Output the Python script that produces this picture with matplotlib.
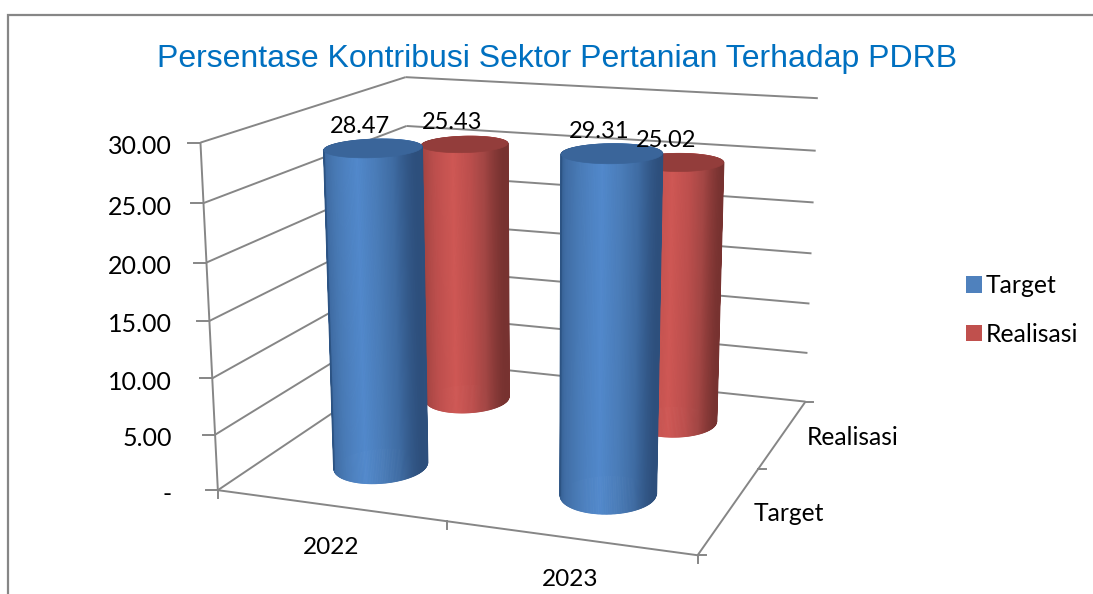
import numpy as np
import matplotlib
matplotlib.use("Agg")
import matplotlib.pyplot as plt
from matplotlib.collections import PolyCollection
from matplotlib.colors import to_rgb
from matplotlib.patches import Patch, Polygon

# =================================================================
# data
# =================================================================
years = ["2022", "2023"]
series_names = ["Target", "Realisasi"]
target = [28.47, 29.31]
realisasi = [25.43, 25.02]
value_ticks = [0, 5, 10, 15, 20, 25, 30]
value_tick_labels = ["-", "5.00", "10.00", "15.00", "20.00", "25.00", "30.00"]
value_max = 30.0

# =================================================================
# style
# =================================================================
LINE = "#868686"
RAMP_STOPS = [0, 0.15, 0.35, 0.57, 0.75, 0.88, 1]
BLUE_RAMP = ["#2c5383", "#3f6ca3", "#4a7cb8", "#5289cc", "#4a7cb8", "#3f6ca3", "#2d4f7c"]
RED_RAMP = ["#7d3331", "#a64543", "#bd4f4d", "#cf5855", "#bd4f4d", "#a34644", "#773230"]
BLUE_CAP = "#3a659a"
RED_CAP = "#933d3b"
RADIUS_X = 0.19
RADIUS_Y = 0.225

plt.rcParams["font.family"] = ["Lato", "DejaVu Sans"]

# =================================================================
# 3D box -> picture scale, calibrated on the box corners
# (category, series depth, value) -> (pixel x, pixel y)
# =================================================================
box = [(0, 0, 0), (2, 0, 0), (2, 2, 0), (0, 2, 0), (0, 0, 30), (0, 2, 30), (2, 2, 30)]
pix = [(217, 490), (698, 555), (805, 402), (412, 360), (201, 143), (405, 77), (818, 98)]

rows, rhs = [], []
for (bx, by, bz), (px, py) in zip(box, pix):
    bz = bz / value_max
    rows.append([bx, by, bz, 1, 0, 0, 0, 0, -px * bx, -px * by, -px * bz])
    rows.append([0, 0, 0, 0, bx, by, bz, 1, -py * bx, -py * by, -py * bz])
    rhs += [px, py]
cam = np.linalg.lstsq(np.array(rows, float), np.array(rhs, float), rcond=None)[0]
cam = np.append(cam, 1.0).reshape(3, 4)


def project(x, y, z):
    x, y, z = np.broadcast_arrays(x, y, np.asarray(z, float) / value_max)
    pts = np.stack([x, y, z, np.ones_like(x, dtype=float)], axis=-1)
    out = pts @ cam.T
    return out[..., 0] / out[..., 2], out[..., 1] / out[..., 2]


def seg(a, b, **kw):
    p0, p1 = project(*a), project(*b)
    ax.plot([p0[0], p1[0]], [p0[1], p1[1]], color=LINE, lw=1.4, solid_capstyle="butt", **kw)


fig = plt.figure(figsize=(10.93, 5.94), dpi=100)
ax = fig.add_axes([0, 0, 1, 1])
ax.set_xlim(0, 1093)
ax.set_ylim(594, 0)
ax.axis("off")

# chart frame (top and left side only are visible)
ax.plot([1093, 7.5, 7.5], [15, 15, 594], color=LINE, lw=1.6, solid_joinstyle="miter")

ax.text(557, 59, "Persentase Kontribusi Sektor Pertanian Terhadap PDRB",
        family="Liberation Sans", fontsize=23, color="#0070C0", ha="center", va="center")

# =================================================================
# walls, floor and ticks
# =================================================================
for v, lab in zip(value_ticks, value_tick_labels):
    seg((0, 0, v), (0, 2, v))
    seg((0, 2, v), (2, 2, v))
    tx, ty = project(0, 0, v)
    ax.plot([tx - 12, tx], [ty, ty], color=LINE, lw=1.4)
    ax.text(172, ty + 4, lab, fontsize=18, ha="right", va="center")

seg((0, 0, 0), (0, 0, value_max))
seg((0, 0, 0), (2, 0, 0))
seg((2, 0, 0), (2, 2, 0))

for i in range(len(years) + 1):
    tx, ty = project(i, 0, 0)
    ax.plot([tx, tx], [ty, ty + 8], color=LINE, lw=1.4)
for i in range(len(series_names) + 1):
    tx, ty = project(2, i, 0)
    ax.plot([tx, tx + 8], [ty, ty], color=LINE, lw=1.4)

for i, year in enumerate(years):
    tx, ty = project(i + 0.5, 0, 0)
    ax.text(tx + 1, ty + 42, year, fontsize=17.6, ha="center", va="center")
for i, name in enumerate(series_names):
    tx, ty = project(2, i + 0.5, 0)
    ax.text(tx + 24, ty + 4, name, fontsize=17.7, ha="left", va="center")


# =================================================================
# cylinders
# =================================================================
def cylinder(ci, si, value, ramp, cap):
    th = np.linspace(0, 2 * np.pi, 241)
    cx = ci + 0.5 + RADIUS_X * np.cos(th)
    cy = si + 0.5 + RADIUS_Y * np.sin(th)
    bx, by = project(cx, cy, 0)
    tx, ty = project(cx, cy, value)
    rgb = np.array([to_rgb(c) for c in ramp])
    order = np.argsort(-np.sin(th[:-1] + (th[1] - th[0]) / 2))
    polys, colors = [], []
    for k in order:
        polys.append([(bx[k], by[k]), (bx[k + 1], by[k + 1]), (tx[k + 1], ty[k + 1]), (tx[k], ty[k])])
        u = (1 + np.cos(th[k])) / 2
        colors.append([np.interp(u, RAMP_STOPS, rgb[:, c]) for c in range(3)])
    body = PolyCollection(polys, facecolors=colors, edgecolors=colors, linewidths=0.6, zorder=3)
    body.set_snap(False)
    ax.add_collection(body)
    # strips pile up into a stepped edge, so run a clean line down both sides
    for top_i, bot_i, edge in [(tx.argmin(), bx.argmin(), ramp[0]), (tx.argmax(), bx.argmax(), ramp[-1])]:
        ax.plot([tx[top_i], bx[bot_i]], [ty[top_i], by[bot_i]], color=edge, lw=1.3, zorder=3,
                solid_capstyle="round", snap=False)
    ax.add_patch(Polygon(np.column_stack([tx, ty]), closed=True, facecolor=cap, edgecolor=cap,
                         lw=0.5, zorder=3, snap=False))


for ci in range(len(years)):
    cylinder(ci, 1, realisasi[ci], RED_RAMP, RED_CAP)
    cylinder(ci, 0, target[ci], BLUE_RAMP, BLUE_CAP)

for si, values in enumerate([target, realisasi]):
    for ci, val in enumerate(values):
        tx, ty = project(ci + 0.5, si + 0.5, val)
        ax.text(tx - 13, ty - 22, f"{val:.2f}", fontsize=17, ha="center", va="center", zorder=5)

# =================================================================
# legend
# =================================================================
handles = [Patch(facecolor="#4F81BD", edgecolor="none"), Patch(facecolor="#C0504D", edgecolor="none")]
ax.legend(handles, series_names, loc="upper left", bbox_to_anchor=(966, 274),
          bbox_transform=ax.transData, frameon=False, fontsize=17.8,
          handlelength=0.66, handleheight=0.66, handletextpad=0.14, labelspacing=1.04,
          borderpad=0, borderaxespad=0)

fig.savefig("out.png", dpi=100)
